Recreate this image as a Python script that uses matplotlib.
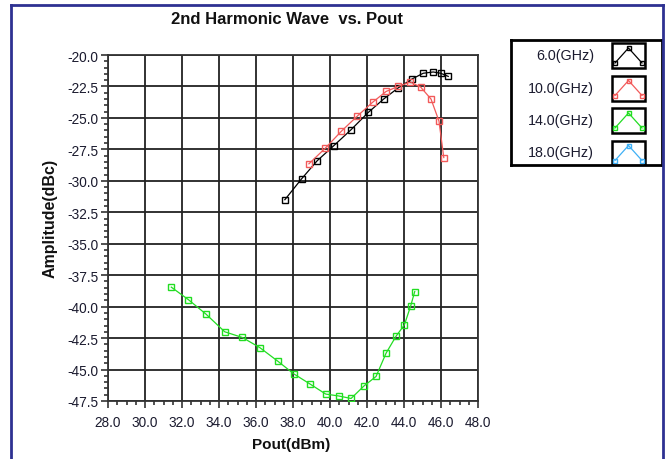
import matplotlib
matplotlib.use("Agg")
import matplotlib.pyplot as plt
from matplotlib.lines import Line2D
from matplotlib.patches import Rectangle
from matplotlib.ticker import MultipleLocator, FormatStrFormatter

plt.rcParams['font.family'] = ['Liberation Sans', 'DejaVu Sans']

# 6.0 GHz
pout_6 = [37.56, 38.46, 39.31, 40.21, 41.13, 42.08, 42.90, 43.70, 44.44, 45.04, 45.58, 45.98, 46.39]
amp_6 = [-31.5, -29.85, -28.4, -27.2, -25.95, -24.55, -23.5, -22.6, -21.9, -21.45, -21.35, -21.45, -21.7]

# 10.0 GHz
pout_10 = [38.86, 39.75, 40.62, 41.48, 42.31, 43.03, 43.68, 44.35, 44.90, 45.46, 45.89, 46.15]
amp_10 = [-28.65, -27.4, -26.05, -24.85, -23.75, -22.9, -22.5, -22.15, -22.55, -23.5, -25.25, -28.15]

# 14.0 GHz
pout_14 = [31.42, 32.35, 33.30, 34.31, 35.26, 36.20, 37.19, 38.05, 38.92, 39.77, 40.47, 41.14,
           41.84, 42.49, 43.03, 43.57, 44.02, 44.36, 44.58]
amp_14 = [-38.45, -39.45, -40.6, -42.0, -42.45, -43.25, -44.35, -45.35, -46.15, -46.95, -47.1, -47.3,
          -46.3, -45.55, -43.7, -42.35, -41.45, -39.95, -38.8]

legend_labels = ["6.0(GHz)", "10.0(GHz)", "14.0(GHz)", "18.0(GHz)"]
colors = ["#000000", "#f25a5a", "#22dd22", "#3fb0f5"]

fig = plt.figure(figsize=(6.67, 4.6), dpi=100)

# outer frame (navy), open at the bottom
frame_col = "#2e3192"
fig.add_artist(Line2D([11 / 667, 11 / 667], [0, 1 - 6 / 460], color=frame_col, lw=2, transform=fig.transFigure))
fig.add_artist(Line2D([11 / 667, 663 / 667], [1 - 6 / 460, 1 - 6 / 460], color=frame_col, lw=2, transform=fig.transFigure))
fig.add_artist(Line2D([663 / 667, 663 / 667], [0, 1 - 6 / 460], color=frame_col, lw=2, transform=fig.transFigure))

ax = fig.add_axes([108 / 667, 1 - 402 / 460, 370 / 667, 346 / 460])

series = [(pout_6, amp_6), (pout_10, amp_10), (pout_14, amp_14)]
for (xs, ys), c in zip(series, colors):
    ax.plot(xs, ys, color=c, lw=0.9, marker='s', markersize=5,
            markerfacecolor='none', markeredgecolor=c, markeredgewidth=1.0, zorder=3)

ax.set_xlim(28, 48)
ax.set_ylim(-47.5, -20)
ax.xaxis.set_major_locator(MultipleLocator(2))
ax.xaxis.set_minor_locator(MultipleLocator(0.5))
ax.yaxis.set_major_locator(MultipleLocator(2.5))
ax.yaxis.set_minor_locator(MultipleLocator(0.5))
ax.xaxis.set_major_formatter(FormatStrFormatter('%.1f'))
ax.yaxis.set_major_formatter(FormatStrFormatter('%.1f'))
ax.grid(True, which='major', color='#222222', lw=1.3)
ax.tick_params(which='major', direction='out', length=5, width=1.2, labelsize=9.8,
               colors='#333333', labelcolor='#1a1a2e')
ax.tick_params(axis='x', which='major', pad=5)
ax.tick_params(axis='y', which='major', pad=2)
ax.tick_params(which='minor', direction='out', length=3, width=1.2, colors='#333333')
for s in ax.spines.values():
    s.set_color('#333333')
    s.set_linewidth(1.3)

fig.text(291 / 667, 1 - 445 / 460, "Pout(dBm)", ha='center', va='center',
         fontsize=11, fontweight='bold', color='#111111')
fig.text(50 / 667, 1 - 218 / 460, "Amplitude(dBc)", ha='center', va='center', rotation=90,
         fontsize=11.5, fontweight='bold', color='#111111')
fig.text(287 / 667, 1 - 20 / 460, "2nd Harmonic Wave  vs. Pout", ha='center', va='center',
         fontsize=12, fontweight='bold', color='#111111')

# legend box
lax = fig.add_axes([511 / 667, 1 - 166 / 460, 151 / 667, 125 / 460])
lax.set_xlim(0, 151)
lax.set_ylim(125, 0)
lax.set_xticks([])
lax.set_yticks([])
for s in lax.spines.values():
    s.set_linewidth(2)
    s.set_color('#000000')

for i, (lab, c) in enumerate(zip(legend_labels, colors)):
    yc = 15 + i * 32.5
    lax.text(83, yc, lab, ha='right', va='center', fontsize=10.3, color='#1a1a2e')
    lax.add_patch(Rectangle((101, yc - 12), 33, 25, fill=False, lw=1.8, edgecolor='#000000'))
    ix = [104, 117.5, 131]
    iy = [yc + 8, yc - 7, yc + 8]
    lax.plot(ix, iy, color=c, lw=0.9, marker='s', markersize=3.5,
             markerfacecolor='none', markeredgecolor=c)

fig.savefig("out.png", dpi=100)
